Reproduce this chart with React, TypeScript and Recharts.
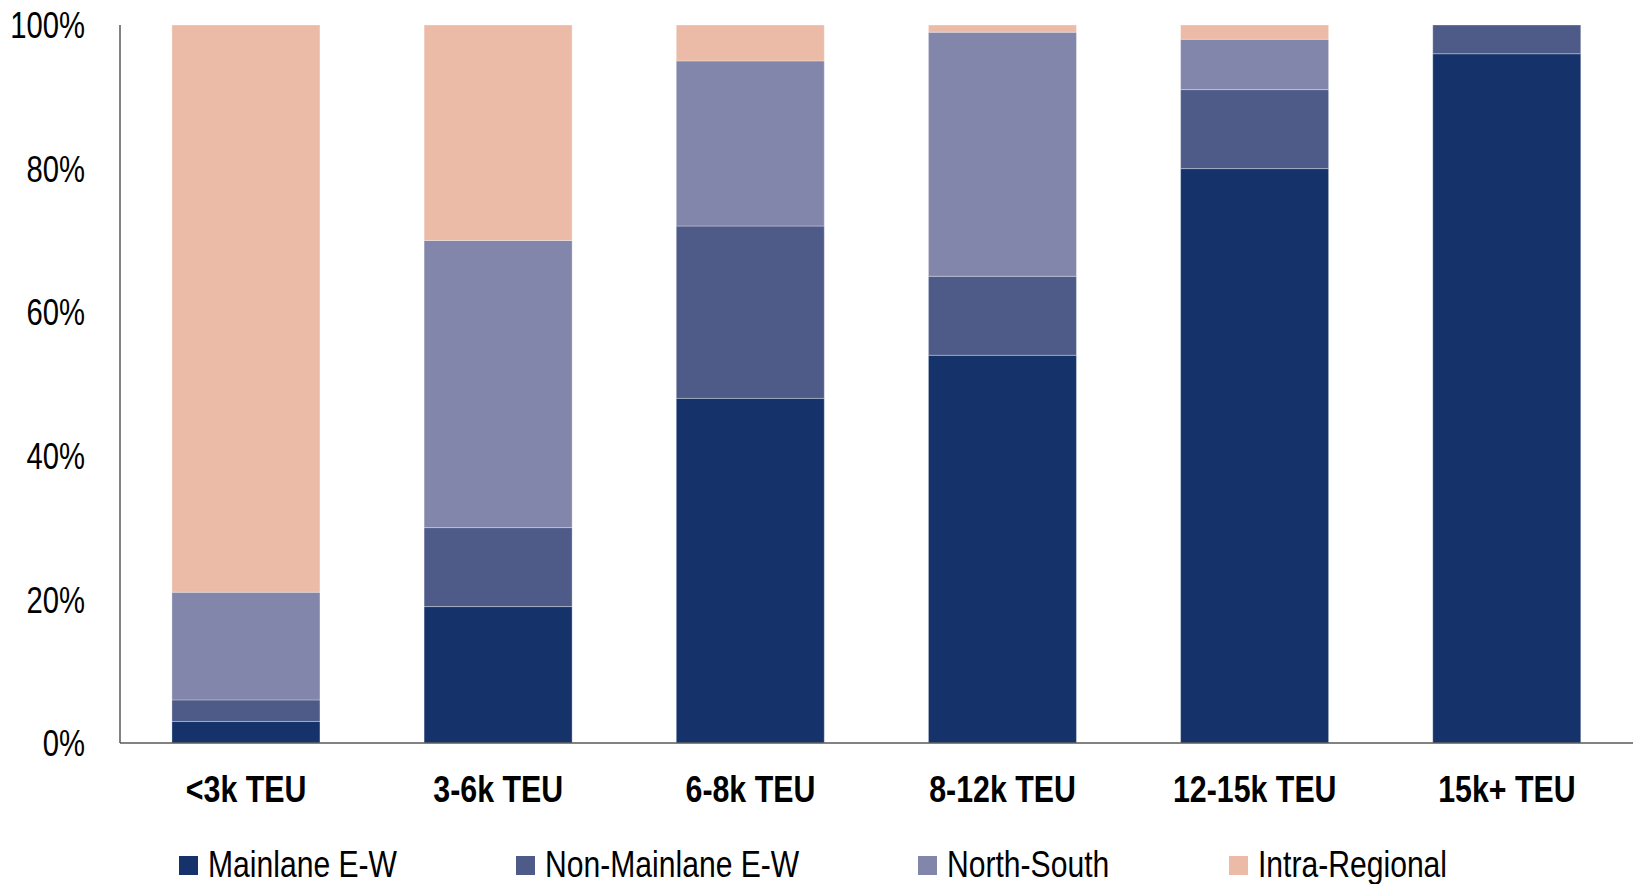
import React from 'react';
import { BarChart, Bar, XAxis, YAxis, Legend } from 'recharts';

const categories = ['<3k TEU', '3-6k TEU', '6-8k TEU', '8-12k TEU', '12-15k TEU', '15k+ TEU'];
const mainlane = [3, 19, 48, 54, 80, 96];
const nonMainlane = [3, 11, 24, 11, 11, 4];
const northSouth = [15, 40, 23, 34, 7, 0];
const intraRegional = [79, 30, 5, 1, 2, 0];
const yTicks = [0, 20, 40, 60, 80, 100];

const series = [
  { key: 'mainlane', name: 'Mainlane E-W', color: '#15336A' },
  { key: 'nonMainlane', name: 'Non-Mainlane E-W', color: '#4E5B88' },
  { key: 'northSouth', name: 'North-South', color: '#8386AB' },
  { key: 'intraRegional', name: 'Intra-Regional', color: '#EBBBA7' },
];

const data = categories.map((c, i) => ({
  category: c,
  mainlane: mainlane[i],
  nonMainlane: nonMainlane[i],
  northSouth: northSouth[i],
  intraRegional: intraRegional[i],
}));

// no narrow font installed, so squeeze Liberation Sans horizontally
const FONT = '"Liberation Sans", Arial, sans-serif';
const NARROW = 0.82;

let measureCtx: CanvasRenderingContext2D | null = null;
const textWidth = (text: string, font: string) => {
  if (!measureCtx) measureCtx = document.createElement('canvas').getContext('2d');
  if (!measureCtx) return text.length * 18;
  measureCtx.font = font;
  return measureCtx.measureText(text).width;
};

const XTick = (props: any) => {
  const { x, y, payload } = props;
  return (
    <g transform={`translate(${x},${y})`}>
      <text
        x={0}
        y={59}
        textAnchor="middle"
        transform={`scale(${NARROW},1)`}
        fontFamily={FONT}
        fontSize={37}
        fontWeight={700}
        fill="#000"
      >
        {payload.value}
      </text>
    </g>
  );
};

const YTick = (props: any) => {
  const { x, y, payload } = props;
  return (
    <g transform={`translate(${x},${y})`}>
      <text
        x={0}
        y={0}
        dy="0.355em"
        textAnchor="end"
        transform={`scale(0.79,1)`}
        fontFamily={FONT}
        fontSize={37}
        fill="#000"
      >
        {`${payload.value}%`}
      </text>
    </g>
  );
};

const renderLegend = () => (
  <div
    style={{
      height: 56,
      paddingTop: 19,
      boxSizing: 'border-box',
      display: 'flex',
      justifyContent: 'center',
      alignItems: 'flex-start',
      gap: 119,
      fontFamily: FONT,
      fontSize: 36,
      color: '#000',
      lineHeight: 1,
      paddingRight: 7,
    }}
  >
    {series.map(s => {
      const w = textWidth(s.name, `36px ${FONT}`) * 0.836;
      return (
        <div key={s.key} style={{ display: 'flex', alignItems: 'center', gap: 10 }}>
          <span style={{ width: 19, height: 19, background: s.color, display: 'inline-block', marginTop: 1 }} />
          <span style={{ display: 'inline-block', width: w, whiteSpace: 'nowrap' }}>
            <span
              style={{
                display: 'inline-block',
                transform: 'scaleX(0.836)',
                transformOrigin: 'left center',
              }}
            >
              {s.name}
            </span>
          </span>
        </div>
      );
    })}
  </div>
);

export default function App() {
  return (
    <div style={{ position: 'absolute', left: 0, top: 0, width: 1633, height: 884, background: '#fff' }}>
      <BarChart
        width={1633}
        height={884}
        data={data}
        margin={{ top: 25, right: 0, left: 0, bottom: 0 }}
        barCategoryGap="20.6%"
      >
        <XAxis
          dataKey="category"
          height={85}
          tickLine={false}
          tickSize={0}
          tickMargin={0}
          axisLine={{ stroke: '#595959', strokeWidth: 1.5 }}
          tick={<XTick />}
        />
        <YAxis
          width={120}
          domain={[0, 100]}
          ticks={yTicks}
          tickLine={false}
          tickSize={0}
          tickMargin={35}
          axisLine={{ stroke: '#595959', strokeWidth: 1.5 }}
          tick={<YTick />}
        />
        <Legend verticalAlign="bottom" content={renderLegend} />
        {series.map(s => (
          <Bar
            key={s.key}
            dataKey={s.key}
            name={s.name}
            stackId="a"
            fill={s.color}
            stroke="rgba(255,255,255,0.3)"
            strokeWidth={1}
            isAnimationActive={false}
          />
        ))}
      </BarChart>
    </div>
  );
}
